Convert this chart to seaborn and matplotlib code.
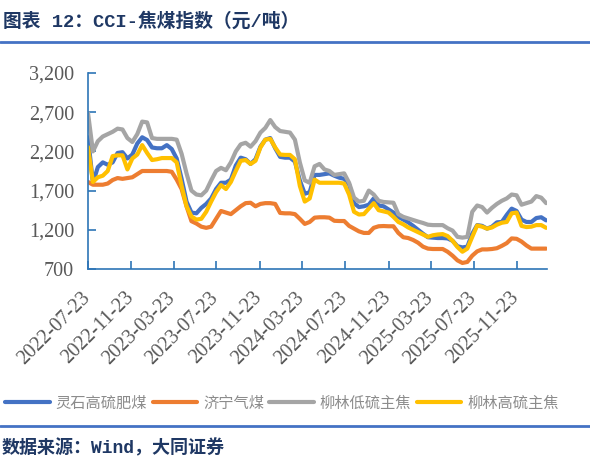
import numpy as np
import pandas as pd
import seaborn as sns
import matplotlib.pyplot as plt
import matplotlib.dates as mdates
import matplotlib.transforms as mtransforms
from matplotlib.lines import Line2D

# Inputs ---------------------------------------
# sampling dates (every two weeks)
dates = pd.date_range('2022-07-23', periods=94, freq='14D')

lingshi = [2380, 1800, 2000, 2060, 2030, 2060, 2180, 2190, 2110, 2160,
           2300, 2380, 2345, 2250, 2240, 2240, 2280, 2230, 2110, 1850,
           1560, 1420, 1410, 1480, 1530, 1600, 1720, 1800, 1800, 1840,
           2020, 2120, 2100, 2040, 2100, 2260, 2350, 2370, 2240, 2130,
           2120, 2120, 2070, 1830, 1660, 1680, 1900, 1900, 1910, 1920,
           1890, 1865, 1850, 1780, 1540, 1490, 1500, 1520, 1600, 1510,
           1500, 1460, 1420, 1365, 1330, 1295, 1250, 1200, 1150, 1105,
           1100, 1095, 1095, 1090, 1060, 990, 975, 985, 1150, 1260,
           1250, 1215, 1240, 1295, 1300, 1390, 1470, 1440, 1330, 1300,
           1300, 1350, 1360, 1320]

jining = [1810, 1775, 1775, 1775, 1790, 1835, 1860, 1850, 1860, 1870,
          1910, 1950, 1950, 1950, 1950, 1950, 1950, 1940, 1840, 1720,
          1500, 1310, 1280, 1240, 1225, 1240, 1340, 1440, 1420, 1400,
          1450, 1500, 1540, 1545, 1500, 1530, 1540, 1540, 1530, 1415,
          1410, 1410, 1400, 1340, 1275, 1300, 1355, 1360, 1360, 1355,
          1315, 1312, 1312, 1250, 1215, 1180, 1160, 1160, 1225, 1245,
          1248, 1245, 1245, 1160, 1105, 1095, 1070, 1035, 985, 960,
          955, 955, 955, 920, 870, 810, 777, 790, 870, 925,
          950, 950, 955, 965, 995, 1030, 1090, 1085, 1050, 1000,
          960, 960, 960, 960]

liulin_low = [2690, 2200, 2330, 2390, 2420, 2450, 2490, 2480, 2370, 2320,
              2420, 2580, 2570, 2370, 2360, 2360, 2360, 2360, 2350, 2170,
              1920, 1700, 1650, 1640, 1700, 1830, 1950, 1990, 1960, 2060,
              2200, 2290, 2310, 2260, 2330, 2440, 2500, 2600, 2510, 2460,
              2450, 2440, 2350, 2060, 1830, 1800, 2010, 2040, 1970, 1950,
              1900, 1910, 1920, 1800, 1610, 1560, 1570, 1700, 1650, 1570,
              1555, 1550, 1545, 1400, 1365, 1345, 1325, 1305, 1287, 1265,
              1260, 1260, 1260, 1220, 1190, 1110, 1100, 1110, 1430, 1510,
              1490, 1420, 1480, 1530, 1570, 1600, 1650, 1640, 1520, 1540,
              1560, 1630, 1610, 1540]

liulin_high = [2256, 1810, 1870, 1890, 1950, 2140, 2150, 2150, 1970, 2110,
               2160, 2280, 2180, 2090, 2100, 2115, 2115, 2115, 2060, 1760,
               1500, 1370, 1330, 1340, 1430, 1560, 1680, 1770, 1720, 1810,
               1950, 2080, 2090, 2040, 2080, 2250, 2350, 2360, 2250, 2160,
               2155, 2155, 2100, 1760, 1560, 1600, 1840, 1800, 1800, 1800,
               1800, 1800, 1790, 1650, 1430, 1395, 1400, 1470, 1540, 1450,
               1435, 1420, 1365, 1300, 1270, 1230, 1200, 1170, 1140, 1110,
               1130, 1140, 1145, 1120, 1060, 980, 920, 960, 1110, 1255,
               1240, 1215, 1230, 1265, 1290, 1300, 1410, 1420, 1250, 1235,
               1240, 1260, 1260, 1225]

series_names = ['灵石高硫肥煤', '济宁气煤', '柳林低硫主焦', '柳林高硫主焦']
colours = ['#4472C4', '#ED7D31', '#A5A5A5', '#FFC000']
tick_dates = pd.date_range('2022-07-23', periods=11, freq=pd.DateOffset(months=4))
# -----------------------------------------------

df = pd.DataFrame({'date': dates,
                   series_names[0]: lingshi,
                   series_names[1]: jining,
                   series_names[2]: liulin_low,
                   series_names[3]: liulin_high})
long_df = df.melt(id_vars='date', var_name='series', value_name='value')

sns.set_style('white')
plt.rcParams['font.family'] = ['Noto Sans CJK SC', 'DejaVu Sans']
plt.rcParams['axes.unicode_minus'] = False

fig = plt.figure(figsize=(5.9, 4.69), dpi=100)
ax = fig.add_axes([88/590, 1-269/469, (546.5-88)/590, (269-73)/469])

sns.lineplot(data=long_df, x='date', y='value', hue='series',
             hue_order=series_names, palette=colours, lw=3,
             legend=False, ax=ax)

ax.set_xlim(pd.Timestamp('2022-07-23'), pd.Timestamp('2026-02-15'))
ax.set_ylim(700, 3200)
ax.set_yticks([700, 1200, 1700, 2200, 2700, 3200])
ax.yaxis.set_major_formatter(plt.FuncFormatter(lambda v, p: f'{int(v):,}'))
ax.set_xticks(tick_dates)
ax.xaxis.set_major_formatter(mdates.DateFormatter('%Y-%m-%d'))
ax.set_xlabel('')
ax.set_ylabel('')

axis_col = '#2E75B6'
for s in ['top', 'right']:
    ax.spines[s].set_visible(False)
for s in ['left', 'bottom']:
    ax.spines[s].set_color(axis_col)
    ax.spines[s].set_linewidth(1.2)

ax.tick_params(axis='both', direction='in', length=6, width=1.2,
               color=axis_col, labelcolor='#595959')
ax.tick_params(axis='y', pad=10, left=True)
ax.tick_params(axis='x', pad=14, bottom=True)
for lab in ax.get_yticklabels():
    lab.set_family('Liberation Serif')
    lab.set_fontsize(14.5)
offset = mtransforms.ScaledTranslation(6/100, 0, fig.dpi_scale_trans)
for lab in ax.get_xticklabels():
    lab.set_family('Liberation Serif')
    lab.set_fontsize(14.5)
    lab.set_rotation(45)
    lab.set_ha('right')
    lab.set_transform(lab.get_transform() + offset)

# legend
handles = [Line2D([0], [0], color=c, lw=3) for c in colours]
leg = fig.legend(handles, series_names, loc='center',
                 bbox_to_anchor=(282/590, 1-403/469), ncol=4, frameon=False,
                 fontsize=11, handlelength=2.9, handletextpad=0.4,
                 columnspacing=0.35, labelcolor='#8C8C8C')
for t in leg.get_texts():
    t.set_fontweight('light')

# title, rules and source
title_col = '#1F3864'
mixed = ['Liberation Mono', 'Noto Sans CJK SC']
fig.text(3/590, 1-21/469, '图表 12：CCI-焦煤指数（元/吨）', fontsize=13.5,
         family=mixed, fontweight='bold', color=title_col,
         ha='left', va='center')
fig.add_artist(Line2D([0, 1], [1-42/469]*2, transform=fig.transFigure,
                      color='#4472C4', lw=2))
fig.add_artist(Line2D([0, 1], [1-426/469]*2, transform=fig.transFigure,
                      color='#4472C4', lw=2))
fig.text(2/590, 1-448/469, '数据来源：Wind，大同证券', fontsize=13,
         family=mixed, fontweight='bold', color=title_col,
         ha='left', va='center')

plt.savefig('out.png', dpi=100)
